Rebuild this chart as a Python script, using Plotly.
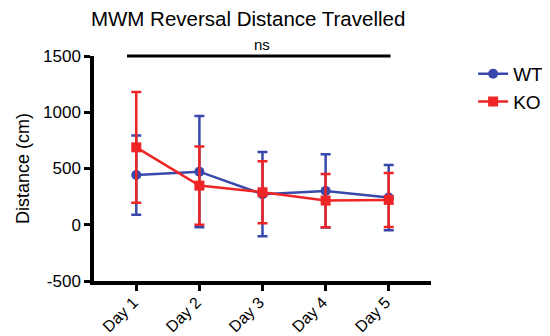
import plotly.graph_objects as go

days = ["Day 1", "Day 2", "Day 3", "Day 4", "Day 5"]
wt_mean = [442, 472, 272, 301, 242]
wt_err = [352, 495, 375, 325, 290]
ko_mean = [688, 348, 289, 215, 221]
ko_err = [492, 348, 276, 237, 240]
y_ticks = [-500, 0, 500, 1000, 1500]
y_tick_labels = ["-500", "0", "500", "1000", "1500"]

WT_COLOR = "#3949ab"
KO_COLOR = "#ee2524"
FONT = "Liberation Sans, Arial, sans-serif"

# page body has an 8px margin, so the figure is sized to fill the rest
W, H = 542, 328

fig = go.Figure()
fig.add_trace(go.Scatter(
    x=days, y=wt_mean, name="WT", mode="lines+markers",
    line=dict(color=WT_COLOR, width=2.5),
    marker=dict(symbol="circle", size=10, color=WT_COLOR),
    error_y=dict(type="data", array=wt_err, visible=True, color=WT_COLOR,
                 thickness=2.5, width=5),
    cliponaxis=False,
))
fig.add_trace(go.Scatter(
    x=days, y=ko_mean, name="KO", mode="lines+markers",
    line=dict(color=KO_COLOR, width=2.5),
    marker=dict(symbol="square", size=10, color=KO_COLOR),
    error_y=dict(type="data", array=ko_err, visible=True, color=KO_COLOR,
                 thickness=2.5, width=5),
    cliponaxis=False,
))

fig.add_shape(type="line", xref="paper", yref="paper", x0=0.098, x1=0.88,
              y0=1.0, y1=1.0, line=dict(color="black", width=3))
fig.add_annotation(text="ns", xref="paper", yref="paper", x=0.498, y=1.0,
                   yanchor="bottom", yshift=1, showarrow=False,
                   font=dict(family=FONT, size=15, color="black"))

fig.update_layout(
    width=W, height=H,
    margin=dict(l=86, r=119, t=48, b=55, autoexpand=False),
    paper_bgcolor="white", plot_bgcolor="white",
    font=dict(family=FONT, color="black"),
    title=dict(text="MWM Reversal Distance Travelled", x=0.443, xref="container",
               xanchor="center", y=0.966, yref="container", yanchor="middle",
               font=dict(family=FONT, size=20.5, color="black")),
    showlegend=True,
    legend=dict(x=1.125, y=1.005, xanchor="left", yanchor="top",
                font=dict(family=FONT, size=19, color="black"),
                bgcolor="rgba(0,0,0,0)", tracegroupgap=0, itemwidth=30),
)
fig.update_xaxes(
    type="category", range=[-0.67, 4.67], automargin=False,
    showline=True, linecolor="black", linewidth=3.5,
    ticks="outside", ticklen=6, tickwidth=3, tickcolor="black",
    tickangle=-45, tickfont=dict(family=FONT, size=16, color="black"),
    ticklabelstandoff=-4, ticklabelshift=-3,
    showgrid=False, zeroline=False,
)
fig.update_yaxes(
    range=[-500, 1500], tickvals=y_ticks, ticktext=y_tick_labels, automargin=False,
    showline=True, linecolor="black", linewidth=3.5,
    ticks="outside", ticklen=6, tickwidth=3, tickcolor="black",
    tickfont=dict(family=FONT, size=17, color="black"),
    showgrid=False, zeroline=False,
    title=dict(text="Distance (cm)", font=dict(family=FONT, size=18, color="black"),
               standoff=10),
)

fig.write_html("out.html")
